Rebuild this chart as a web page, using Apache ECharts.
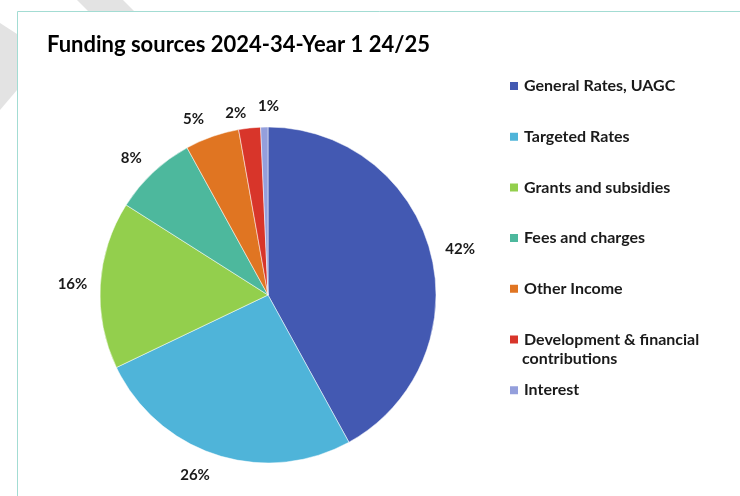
<!DOCTYPE html>
<html>
<head>
<meta charset="utf-8">
<script src="https://cdn.jsdelivr.net/npm/echarts@6/dist/echarts.min.js"></script>
<style>
html,body{margin:0;padding:0;background:#fff;}
#chart{width:740px;height:496px;}
</style>
</head>
<body>
<div id="chart"></div>
<script>
var titleText = 'Funding sources 2024-34-Year 1 24/25';
var categories = ['General Rates, UAGC', 'Targeted Rates', 'Grants and subsidies', 'Fees and charges', 'Other Income', 'Development & financial contributions', 'Interest'];
var values = [42.0, 25.9, 16.1, 8.0, 5.2, 2.1, 0.7];
var colors = ['#4359B2', '#4FB4D9', '#93CF4D', '#4DB89D', '#E07522', '#D8352A', '#949FDC'];

var FONT = 'Lato, "Noto Sans", sans-serif';
var chart = echarts.init(document.getElementById('chart'));
var total = values.reduce(function(a,b){return a+b;},0);

// label nudges (styling only) to match the reference's label placement
var labelNudge = [[-2,-1],[2,9],[4,0],[2,-6],[1,-6],[3,-3],[20,-9]];

chart.setOption({
  animation: false,
  backgroundColor: '#fff',
  graphic: [
    {type:'polygon', shape:{points:[[77,0],[123,0],[134,11],[88,11]]}, style:{fill:'#e3e3e3'}, silent:true, z:-1},
    {type:'polygon', shape:{points:[[0,23],[17,34],[17,90],[0,110]]}, style:{fill:'#e3e3e3'}, silent:true, z:-1},
    {type:'rect', shape:{x:17.5, y:11.5, width:740, height:500}, style:{fill:'#fff', stroke:'#a3dcd3', lineWidth:1}, silent:true, z:-1},
    {type:'text', left:522, top:351, style:{text:'contributions', font:'bold 16px ' + FONT, fill:'#1a1a1a'}, z:10}
  ],
  title: {
    text: titleText,
    left: 42, top: 29,
    textStyle: {fontFamily: FONT, fontWeight: 'bold', fontSize: 22, color: '#000'}
  },
  legend: {
    orient: 'vertical',
    left: 503, top: 72,
    itemWidth: 10, itemHeight: 10, itemGap: 32.7,
    icon: 'rect',
    data: categories,
    formatter: function(n){ return n === 'Development & financial contributions' ? 'Development & financial' : n; },
    textStyle: {fontFamily: FONT, fontWeight: 'bold', fontSize: 16, color: '#1a1a1a', lineHeight: 18, padding:[0,0,0,0]}
  },
  series: [{
    type: 'pie',
    center: [268, 295],
    radius: 168,
    startAngle: 90,
    clockwise: true,
    avoidLabelOverlap: false,
    color: colors,
    itemStyle: {borderColor: '#fff', borderWidth: 0.5},
    label: {
      show: true, position: 'outside',
      fontFamily: FONT, fontWeight: 'bold', fontSize: 15, color: '#1a1a1a',
      formatter: function(p){ return Math.round(p.value / total * 100) + '%'; }
    },
    labelLine: {show: false, length: 12, length2: 0},
    labelLayout: {hideOverlap: false},
    emphasis: {disabled: true},
    data: categories.map(function(c,i){ return {name:c, value:values[i], label:{offset: labelNudge[i]}}; })
  }]
});
</script>
</body>
</html>
